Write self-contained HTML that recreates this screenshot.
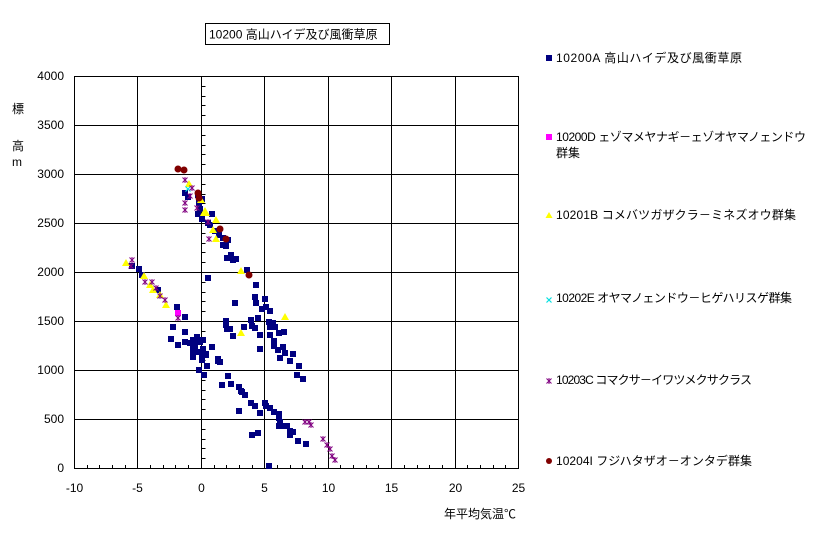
<!DOCTYPE html>
<html><head><meta charset="utf-8"><style>
body{margin:0;background:#fff;width:816px;height:534px;overflow:hidden}
svg text{font-family:"Liberation Sans","Noto Sans CJK JP",sans-serif;font-size:12px;fill:#000}
</style></head><body>
<svg id="s" width="816" height="534" xmlns="http://www.w3.org/2000/svg">
<rect x="205.5" y="23.5" width="184" height="21" fill="#fff" stroke="#000"/>
<text x="209" y="38.5">10200 高山ハイデ及び風衝草原</text>
<g id="grid" stroke="#000" stroke-width="1"></g>
<g id="pts"></g>
<text x="12" y="113" font-size="13">標</text>
<text x="12" y="150" font-size="13">高</text>
<text x="12" y="166" font-size="13">m</text>
<text x="444" y="518">年平均気温℃</text>
<rect x="546" y="55" width="6" height="6" fill="#000080"/>
<text x="556" y="62" textLength="186">10200A 高山ハイデ及び風衝草原</text>
<rect x="546" y="134" width="6" height="6" fill="#ff00ff"/>
<text x="556" y="141" textLength="250">10200D ェゾマメヤナギ－ェゾオヤマノェンドウ</text>
<text x="556" y="157">群集</text>
<polygon points="549,212 545.5,218 552.5,218" fill="#ffff00"/>
<text x="556" y="219" textLength="240">10201B コメバツガザクラ－ミネズオウ群集</text>
<text x="556" y="302" textLength="236">10202E オヤマノェンドウ－ヒゲハリスゲ群集</text>
<text x="556" y="384" textLength="196">10203C コマクサ－イワツメクサクラス</text>
<circle cx="549" cy="461" r="3" fill="#800000"/>
<text x="556" y="465" textLength="196">10204I フジハタザオ－オンタデ群集</text>
</svg>
<script>
var NS="http://www.w3.org/2000/svg",g=document.getElementById('grid'),s=document.getElementById('s'),P=document.getElementById('pts');
function el(p,t,a,txt){var e=document.createElementNS(NS,t);for(var k in a)e.setAttribute(k,a[k]);if(txt!=null)e.textContent=txt;p.appendChild(e);return e;}
var L=74,R=518,T=76,B=468;
function X(v){return L+(v+10)*(R-L)/35}
el(g,'rect',{x:L+.5,y:T+.5,width:R-L,height:B-T,fill:'none'});
for(var i=0;i<=8;i++){var y=B-i*49;el(g,'line',{x1:L,x2:R,y1:y+.5,y2:y+.5});
 el(s,'text',{x:64,y:y+4,'text-anchor':'end'},String(i*500));}
for(var v=-10;v<=25;v+=5){var x=Math.round(X(v))+.5;el(g,'line',{x1:x,x2:x,y1:T,y2:B});
 el(s,'text',{x:x,y:492,'text-anchor':'middle'},String(v));}
for(var v=-10;v<=25;v++){var x=Math.round(X(v))+.5;el(g,'line',{x1:x,x2:x,y1:B-3,y2:B});}
var x0=Math.round(X(0))+.5;
for(var i=0;i<40;i++){var y=Math.round(B-i*9.8)+.5;el(g,'line',{x1:x0,x2:x0+4,y1:y,y2:y});}
function star(x,y,c){var d='M'+(x-2.5)+','+(y-2.5)+'L'+(x+2.5)+','+(y+2.5)+'M'+(x+2.5)+','+(y-2.5)+'L'+(x-2.5)+','+(y+2.5)+'M'+x+','+(y-3)+'L'+x+','+(y+3);el(P,'path',{d:d,stroke:c,'stroke-width':1,fill:'none'});}
function cross(x,y,c){var d='M'+(x-2.5)+','+(y-2.5)+'L'+(x+2.5)+','+(y+2.5)+'M'+(x+2.5)+','+(y-2.5)+'L'+(x-2.5)+','+(y+2.5);el(P,'path',{d:d,stroke:c,'stroke-width':1.2,fill:'none'});}
var blue=[[185,193],[188,197],[198,195],[202,199],[199,203],[200,209],[198,214],[202,219],[212,214],[208,223],[210,225],[215,231],[219,235],[223,238],[223,245],[226,246],[228,240],[231,255],[227,258],[233,260],[236,259],[247,270],[208,278],[256,285],[255,297],[265,299],[256,303],[235,303],[262,309],[266,307],[270,311],[258,318],[251,320],[226,321],[226,325],[230,329],[227,329],[244,327],[252,326],[255,328],[269,322],[273,323],[275,327],[270,327],[284,332],[279,333],[260,335],[270,335],[233,336],[274,341],[274,346],[283,347],[278,350],[285,353],[293,354],[280,358],[260,349],[290,361],[299,366],[297,375],[303,379],[195,340],[195,346],[195,352],[203,349],[212,347],[206,355],[202,360],[207,366],[218,361],[220,362],[199,370],[204,375],[228,376],[222,385],[231,384],[239,387],[241,391],[242,392],[245,395],[251,403],[255,406],[239,411],[260,413],[265,403],[266,406],[270,408],[274,412],[279,414],[279,418],[280,422],[279,426],[284,426],[287,426],[290,431],[293,432],[290,435],[252,435],[258,433],[298,441],[306,444],[269,466],[139,269],[132,266],[142,275],[158,290],[177,307],[185,317],[173,327],[185,332],[171,339],[185,342],[178,345],[193,340],[193,347],[193,357],[197,337],[200,342],[212,347],[202,355],[218,359],[206,354],[193,352],[198,352],[203,340],[190,343]];
blue.forEach(function(p){el(P,'rect',{x:p[0]-3,y:p[1]-3,width:6,height:6,fill:'#000080'});});
el(P,'rect',{x:175,y:310,width:6,height:6,fill:'#ff00ff'});
var yel=[[126,263],[144,276],[150,285],[153,290],[160,295],[166,305],[189,184],[201,200],[204,213],[216,220],[213,230],[216,239],[241,271],[285,317],[241,333]];
yel.forEach(function(p){el(P,'polygon',{points:(p[0])+','+(p[1]-4)+' '+(p[0]-4)+','+(p[1]+3)+' '+(p[0]+4)+','+(p[1]+3),fill:'#ffff00'});});
el(P,'polygon',{points:'205,207 200,216 210,216',fill:'#ffff00'});
cross(188,189,'#00e0e0');
cross(549,300,'#00e0e0');
var pur=[[132,260],[131,266],[145,282],[152,282],[156,288],[165,300],[160,296],[185,203],[190,196],[197,208],[208,222],[209,239],[185,180],[185,210],[305,422],[309,422],[311,425],[323,439],[327,445],[330,449],[332,456],[335,460],[178,318],[192,188]];
pur.forEach(function(p){star(p[0],p[1],'#800080');});
star(549,381,'#800080');
var red=[[178,169],[184,170],[198,193],[199,198],[220,229],[226,239],[249,275]];
red.forEach(function(p){el(P,'circle',{cx:p[0],cy:p[1],r:3.5,fill:'#800000'});});
</script>
</body></html>
